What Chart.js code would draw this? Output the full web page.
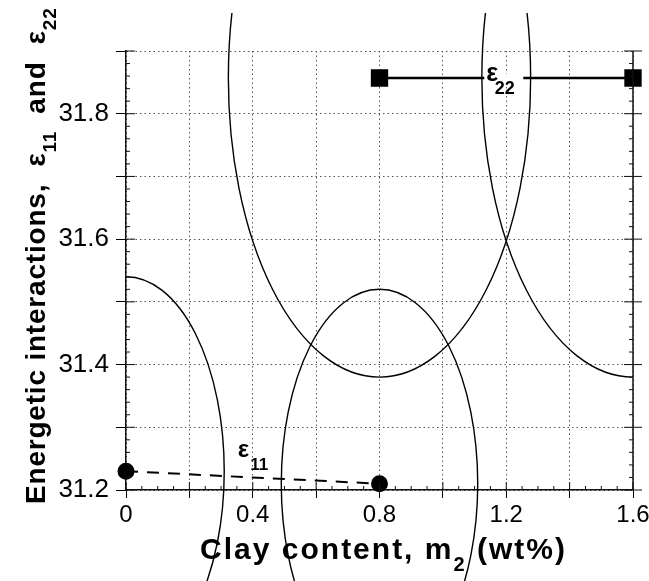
<!DOCTYPE html>
<html>
<head>
<meta charset="utf-8">
<script src="https://cdn.jsdelivr.net/npm/chart.js@4.4.1/dist/chart.umd.min.js"></script>
<style>
  html, body { margin: 0; padding: 0; background: #fff; }
  #wrap { width: 649px; height: 581px; }
</style>
</head>
<body>
<div id="wrap"><canvas id="chart" width="649" height="581"></canvas></div>
<script>
// values
const clay11 = [0, 0.8];
const eps11 = [31.23, 31.21];
const clay22 = [0.8, 1.6];
const eps22 = [31.857, 31.857];
// radii of the ellipses round each point, in data units [x, y]
const radius11 = [0.31, 0.31];
const radius22 = [0.477, 0.477];

const xTickLabels = [0, 0.4, 0.8, 1.2, 1.6];
const yTickLabels = [31.2, 31.4, 31.6, 31.8];

const FONT = '"Liberation Sans", Arial, Helvetica, sans-serif';

function isLabel(v, list) {
    return list.some(t => Math.abs(t - v) < 1e-6);
}

// draws text pieces one after another, subscripts smaller and shifted down
function drawRich(ctx, parts, size, subSize, subShift) {
    let x = 0;
    parts.forEach(p => {
        ctx.font = 'bold ' + (p.sub ? subSize : size) + 'px ' + FONT;
        ctx.fillText(p.t, x, p.sub ? subShift : 0);
        x += ctx.measureText(p.t).width;
    });
    return x;
}
function richWidth(ctx, parts, size, subSize) {
    let w = 0;
    parts.forEach(p => {
        ctx.font = 'bold ' + (p.sub ? subSize : size) + 'px ' + FONT;
        w += ctx.measureText(p.t).width;
    });
    return w;
}

const chartArt = {
    id: 'chartArt',
    afterDatasetsDraw(chart) {
        const ctx = chart.ctx;
        const xs = chart.scales.x, ys = chart.scales.y;
        const a = chart.chartArea;

        // label on the eps22 line, white box breaks the line
        const lx = xs.getPixelForValue(1.137);
        const ly = ys.getPixelForValue(eps22[0]);
        ctx.save();
        ctx.fillStyle = '#fff';
        ctx.fillRect(lx - 2, ly - 4, 39, 8);
        ctx.fillStyle = '#000';
        ctx.translate(lx, ly + 3);
        ctx.font = 'bold 25px ' + FONT;
        ctx.fillText('ε', 0, 0);
        ctx.font = 'bold 18px ' + FONT;
        ctx.fillText('22', ctx.measureText('ε').width, 13);
        ctx.restore();

        // eps11 label
        ctx.save();
        ctx.fillStyle = '#000';
        ctx.translate(xs.getPixelForValue(0.353), ys.getPixelForValue(31.253));
        ctx.font = 'bold 24px ' + FONT;
        ctx.fillText('ε', 0, 0);
        const ew = ctx.measureText('ε').width;
        ctx.font = 'bold 17px ' + FONT;
        ctx.fillText('11', ew + 1, 13);
        ctx.restore();

        // ellipses round the points
        ctx.save();
        ctx.beginPath();
        ctx.rect(a.left, a.top - 38, a.right - a.left, chart.height);
        ctx.clip();
        ctx.strokeStyle = '#000';
        ctx.lineWidth = 1.4;
        const ell = (cx, cy, r) => {
            const px = xs.getPixelForValue(cx), py = ys.getPixelForValue(cy);
            const rx = Math.abs(xs.getPixelForValue(cx + r[0]) - px);
            const ry = Math.abs(ys.getPixelForValue(cy + r[1]) - py);
            ctx.beginPath();
            ctx.ellipse(px, py, rx, ry, 0, 0, Math.PI * 2);
            ctx.stroke();
        };
        clay11.forEach((c, i) => ell(c, eps11[i], radius11));
        clay22.forEach((c, i) => ell(c, eps22[i], radius22));
        ctx.restore();

        // right axis, minor ticks and inner halves of major ticks
        ctx.save();
        ctx.strokeStyle = '#111';
        ctx.lineWidth = 1.5;
        ctx.beginPath();
        ctx.moveTo(a.right, a.top);
        ctx.lineTo(a.right, a.bottom);
        ctx.stroke();
        ctx.lineWidth = 1;
        ctx.beginPath();
        for (let i = 0; i <= 35; i++) {
            const y = ys.getPixelForValue(31.2 + i * 0.02);
            const len = i % 5 === 0 ? 9 : 4;
            ctx.moveTo(a.left, y); ctx.lineTo(a.left + len, y);
            ctx.moveTo(a.right, y); ctx.lineTo(a.right - len, y);
            if (i % 5 === 0) { ctx.moveTo(a.right, y); ctx.lineTo(a.right + 9, y); }
        }
        for (let i = 0; i <= 32; i++) {
            const x = xs.getPixelForValue(i * 0.05);
            const len = i % 4 === 0 ? 8 : 4;
            ctx.moveTo(x, a.bottom); ctx.lineTo(x, a.bottom - len);
        }
        ctx.stroke();
        ctx.restore();
    },
    afterDraw(chart) {
        const ctx = chart.ctx;
        const a = chart.chartArea;
        ctx.save();
        ctx.fillStyle = '#000';
        ctx.textBaseline = 'alphabetic';
        // x title
        const xParts = [{t: 'Clay content, m'}, {t: '2', sub: true}, {t: ' (wt%)'}];
        ctx.letterSpacing = '2px';
        const w = richWidth(ctx, xParts, 30, 20);
        ctx.translate((a.left + a.right) / 2 + 4 - w / 2, 559);
        drawRich(ctx, xParts, 30, 20, 12);
        ctx.restore();

        // y title, rotated
        ctx.save();
        ctx.fillStyle = '#000';
        ctx.letterSpacing = '0.8px';
        ctx.translate(45, 504);
        ctx.rotate(-Math.PI / 2);
        const yParts = [{t: 'Energetic interactions,  ε'}, {t: '11', sub: true}, {t: '  and  ε'}, {t: '22', sub: true}];
        drawRich(ctx, yParts, 28, 19, 11);
        ctx.restore();
    }
};

new Chart(document.getElementById('chart'), {
    type: 'scatter',
    data: {
        datasets: [{
            label: 'ε11',
            data: clay11.map((x, i) => ({x: x, y: eps11[i]})),
            showLine: true,
            borderColor: '#000',
            borderWidth: 2,
            borderDash: [12, 9],
            pointStyle: 'circle',
            pointRadius: 7.5,
            pointBackgroundColor: '#000',
            pointBorderColor: '#000',
            clip: false
        }, {
            label: 'ε22',
            data: clay22.map((x, i) => ({x: x, y: eps22[i]})),
            showLine: true,
            borderColor: '#000',
            borderWidth: 2.5,
            pointStyle: 'rect',
            pointRadius: 10.5,
            pointBackgroundColor: '#000',
            pointBorderColor: '#000',
            clip: false
        }]
    },
    options: {
        responsive: false,
        animation: false,
        devicePixelRatio: 1,
        layout: { padding: { top: 51, right: 16, left: 0, bottom: 0 } },
        plugins: { legend: { display: false }, tooltip: { enabled: false } },
        scales: {
            x: {
                type: 'linear', min: 0, max: 1.6,
                ticks: {
                    stepSize: 0.2, autoSkip: false, maxRotation: 0, padding: 3,
                    color: '#000', font: { family: FONT, size: 24 },
                    callback: v => isLabel(v, xTickLabels) ? (Math.round(v * 10) / 10).toString() : ''
                },
                grid: { color: '#555', lineWidth: 1, tickLength: 8, tickColor: '#000', tickWidth: 1 },
                border: { color: '#111', width: 1.5, dash: [1.5, 3] },
                afterFit: s => { s.height = 91; s.paddingLeft = 0; s.paddingRight = 0; }
            },
            y: {
                type: 'linear', min: 31.2, max: 31.9,
                ticks: {
                    stepSize: 0.1, autoSkip: false, padding: 7,
                    color: '#000', font: { family: FONT, size: 26 },
                    callback: v => isLabel(v, yTickLabels) ? v.toFixed(1) : ''
                },
                grid: { color: '#555', lineWidth: 1, tickLength: 10, tickColor: '#000', tickWidth: 1 },
                border: { color: '#111', width: 1.5, dash: [1.5, 3] },
                afterFit: s => { s.width = 126; s.paddingTop = 0; s.paddingBottom = 0; }
            }
        }
    },
    plugins: [chartArt]
});
</script>
</body>
</html>
